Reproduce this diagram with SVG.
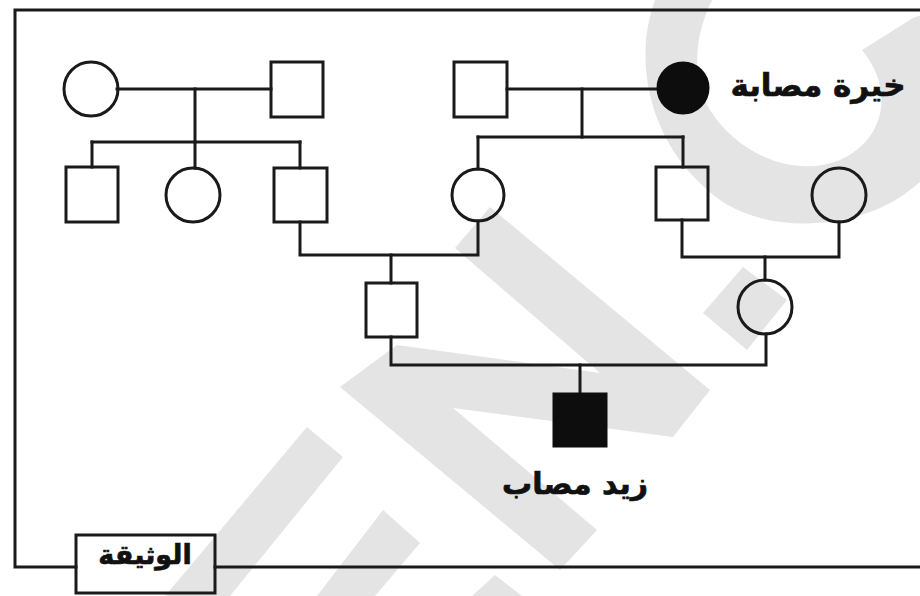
<svg xmlns="http://www.w3.org/2000/svg" width="920" height="596" viewBox="0 0 920 596">
<style>
.ln{fill:none;stroke:#1a1a1a;stroke-width:3;stroke-linecap:square;stroke-linejoin:miter}
.nd{fill:none;stroke:#1a1a1a;stroke-width:3}
.aff{fill:#0d0d0d;stroke:#0d0d0d;stroke-width:3}
.wm{fill:#e4e4e4}
.lbl{font-family:"DejaVu Sans",sans-serif;font-weight:bold;fill:#111;stroke:#111;stroke-width:0.7;text-anchor:middle}
</style>
<rect width="920" height="596" fill="#ffffff"/>
<g id="watermark">
<path class="wm" d="M 657 -5 C 630 60, 650 150, 720 200 C 770 235, 860 230, 910 190 L 935 170 L 935 10 L 913 18 L 862 50 C 895 90, 885 140, 840 160 C 790 180, 735 150, 710 110 C 690 75, 695 30, 715 -5 Z"/>
<polygon class="wm" points="340,387 397,345 600,373 455,248 490,207 710,390 673,437 453,408 597,530 560,570"/>
<polygon class="wm" points="743,267 787,300 747,350 703,313"/>
<polygon class="wm" points="307,427 343,457 230,596 165,596"/>
<polygon class="wm" points="383,510 420,543 375,596 317,596"/>
<polygon class="wm" points="495,575 522,596 472,596"/>
</g>
<g id="frame">
<path class="ln" d="M 920 10 L 15 10 L 15 567 L 76 567 M 215 567 L 920 567"/>
</g>
<g id="connectors">
<path class="ln" d="M117 89 H271"/>
<path class="ln" d="M195 89 V142"/>
<path class="ln" d="M92 142 H300"/>
<path class="ln" d="M92 142 V167"/>
<path class="ln" d="M195 142 V168"/>
<path class="ln" d="M300 142 V168"/>
<path class="ln" d="M507 89 H657"/>
<path class="ln" d="M582 89 V137"/>
<path class="ln" d="M478 137 H683"/>
<path class="ln" d="M478 137 V169"/>
<path class="ln" d="M683 137 V167"/>
<path class="ln" d="M300 222 V255 H478 V221"/>
<path class="ln" d="M682 220 V257 H839 V222"/>
<path class="ln" d="M391 255 V283"/>
<path class="ln" d="M765 257 V280"/>
<path class="ln" d="M391 337 V365 H766 V334"/>
<path class="ln" d="M580 365 V393"/>
</g>
<g id="gp-female-left"><circle class="nd" cx="91" cy="89" r="27"/></g>
<g id="gp-male-left"><rect class="nd" x="271" y="62" width="52" height="55"/></g>
<g id="gp-male-right"><rect class="nd" x="454" y="62" width="53" height="55"/></g>
<g id="khayra"><circle class="aff" cx="683" cy="88" r="25"/><text class="lbl" x="818" y="96" font-size="31">خيرة مصابة</text></g>
<g id="g2-male-1"><rect class="nd" x="66" y="167" width="52" height="55"/></g>
<g id="g2-female-1"><circle class="nd" cx="193" cy="195" r="27"/></g>
<g id="g2-male-2"><rect class="nd" x="274" y="168" width="53" height="54"/></g>
<g id="g2-female-2"><circle class="nd" cx="478" cy="195" r="26"/></g>
<g id="g2-male-3"><rect class="nd" x="656" y="167" width="52" height="53"/></g>
<g id="g2-female-3"><circle class="nd" cx="839" cy="195" r="27"/></g>
<g id="father"><rect class="nd" x="366" y="283" width="51" height="54"/></g>
<g id="mother"><circle class="nd" cx="765" cy="307" r="27"/></g>
<g id="zaid"><rect class="aff" x="554" y="394" width="52" height="52"/><text class="lbl" x="575" y="494" font-size="30">زيد مصاب</text></g>
<g id="doc-label"><rect class="nd" x="76" y="535" width="139" height="58"/><text class="lbl" x="145" y="564" font-size="27">الوثيقة</text></g>
</svg>
